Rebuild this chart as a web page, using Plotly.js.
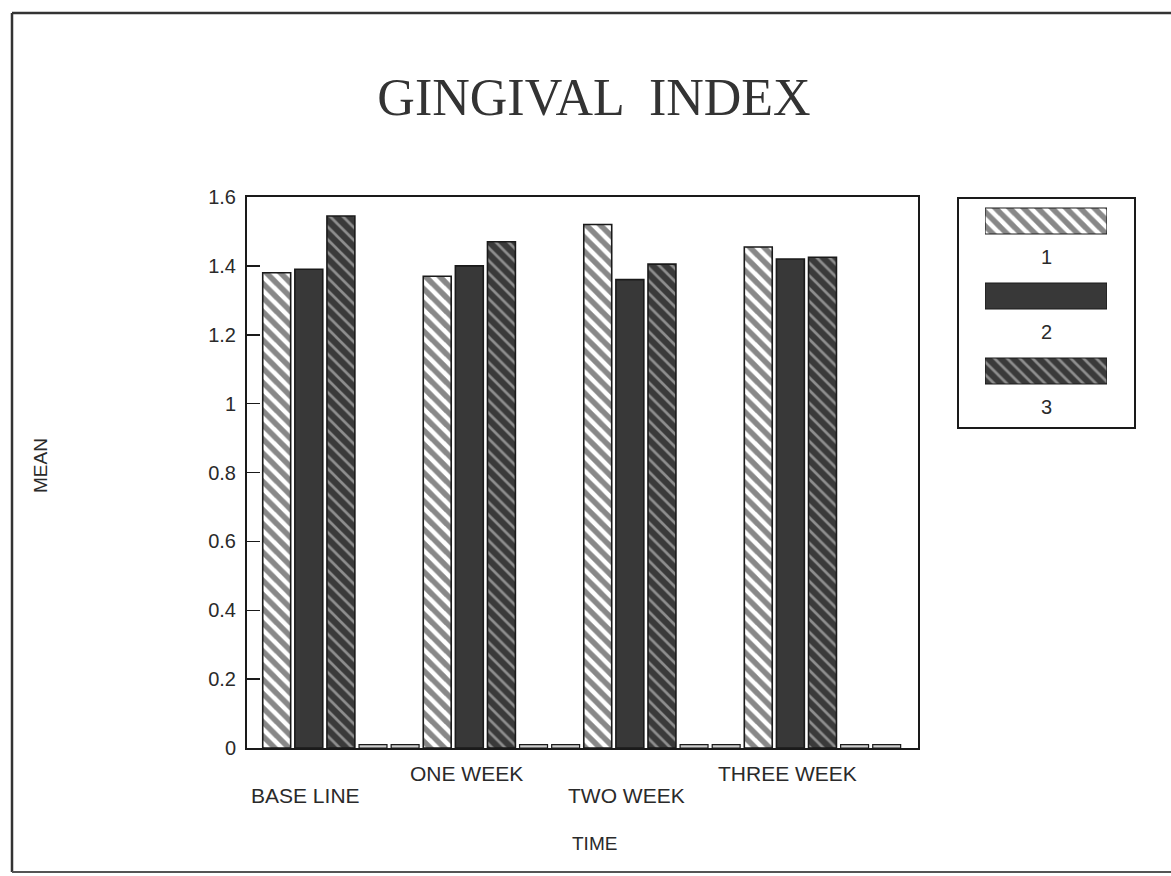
<!DOCTYPE html>
<html>
<head>
<meta charset="utf-8">
<script src="https://cdn.plot.ly/plotly-3.0.1.min.js"></script>
<style>
  html, body { margin: 0; padding: 0; background: #ffffff; }
  #chart { width: 1171px; height: 876px; }
</style>
</head>
<body>
<div id="chart"></div>
<script>
// ---------- data ----------
const categories = ['BASE LINE', 'ONE WEEK', 'TWO WEEK', 'THREE WEEK'];
const seriesNames = ['1', '2', '3'];
const series1 = [1.38, 1.37, 1.52, 1.455];
const series2 = [1.39, 1.40, 1.36, 1.42];
const series3 = [1.545, 1.47, 1.405, 1.425];
const emptySlotA = [0.01, 0.01, 0.01, 0.01];
const emptySlotB = [0.01, 0.01, 0.01, 0.01];
const yTickVals = [0, 0.2, 0.4, 0.6, 0.8, 1, 1.2, 1.4, 1.6];
const yTickText = ['0', '0.2', '0.4', '0.6', '0.8', '1', '1.2', '1.4', '1.6'];
const legendLength = [1, 1, 1];

// ---------- styles ----------
const sansFont = 'Liberation Sans Narrow, Liberation Sans, Arial, sans-serif';
const ink = '#2a2a2a';
const styles = [
  { color: '#ffffff', pattern: { shape: '\\', bgcolor: '#ffffff', fgcolor: '#111111', size: 10, solidity: 0.55, fillmode: 'overlay' } },
  { color: '#383838', pattern: { shape: '' } },
  { color: '#3a3a3a', pattern: { shape: '\\', bgcolor: '#3a3a3a', fgcolor: '#e2e2e2', size: 9, solidity: 0.3, fillmode: 'overlay' } }
];
const seriesValues = [series1, series2, series3];

const traces = [];
seriesValues.forEach((vals, i) => {
  traces.push({
    type: 'bar', x: categories, y: vals, name: seriesNames[i],
    marker: { color: styles[i].color, pattern: styles[i].pattern, line: { color: '#1a1a1a', width: 1.6 } },
    xaxis: 'x', yaxis: 'y', hoverinfo: 'skip', showlegend: false
  });
});
[emptySlotA, emptySlotB].forEach((vals) => {
  traces.push({
    type: 'bar', x: categories, y: vals,
    marker: { color: '#cfcfcf', line: { color: '#1a1a1a', width: 1.2 } },
    xaxis: 'x', yaxis: 'y', hoverinfo: 'skip', showlegend: false
  });
});
// custom legend swatches (long patterned bars)
seriesNames.forEach((nm, i) => {
  traces.push({
    type: 'bar', orientation: 'h', x: [legendLength[i]], y: [nm], width: 0.347,
    marker: { color: styles[i].color, pattern: styles[i].pattern, line: { color: '#1a1a1a', width: 1.2 } },
    xaxis: 'x2', yaxis: 'y2', hoverinfo: 'skip', showlegend: false
  });
});

// ---------- layout ----------
const W = 1171, H = 876;
const mL = 247, mR = 36, mT = 150, mB = 128;
const pw = W - mL - mR, ph = H - mT - mB;
const px = (x) => (x - mL) / pw;           // pixel -> paper x
const py = (y) => (H - mB - y) / ph;       // pixel -> paper y

const annotations = [];
categories.forEach((c, i) => {
  annotations.push({
    text: c, xref: 'x', x: i - 0.22, yref: 'paper', y: py(i % 2 === 0 ? 795 : 773),
    showarrow: false, xanchor: 'center', yanchor: 'middle',
    font: { family: sansFont, size: 21, color: ink }
  });
});
seriesNames.forEach((nm, i) => {
  annotations.push({
    text: nm, xref: 'paper', x: px(1046), yref: 'y2', y: i + 0.48,
    showarrow: false, xanchor: 'center', yanchor: 'middle',
    font: { family: sansFont, size: 20, color: ink }
  });
});
annotations.push({
  text: 'MEAN', xref: 'paper', x: px(40), yref: 'paper', y: py(466), textangle: -90,
  showarrow: false, xanchor: 'center', yanchor: 'middle',
  font: { family: sansFont, size: 19, color: ink }
});
annotations.push({
  text: 'TIME', xref: 'paper', x: px(594), yref: 'paper', y: py(843),
  showarrow: false, xanchor: 'center', yanchor: 'middle',
  font: { family: sansFont, size: 19, color: ink }
});

const shapes = [
  // legend box
  { type: 'rect', xref: 'paper', yref: 'paper', x0: px(958), x1: px(1135), y0: py(428), y1: py(198),
    line: { color: '#1a1a1a', width: 2 }, fillcolor: 'rgba(0,0,0,0)' },
  // page frame (scan edge)
  { type: 'line', xref: 'paper', yref: 'paper', x0: px(12), x1: px(1171), y0: py(13), y1: py(13), line: { color: '#333', width: 2.5 } },
  { type: 'line', xref: 'paper', yref: 'paper', x0: px(12), x1: px(12), y0: py(13), y1: py(872), line: { color: '#333', width: 2.5 } },
  { type: 'line', xref: 'paper', yref: 'paper', x0: px(12), x1: px(1171), y0: py(872), y1: py(872), line: { color: '#555', width: 2 } }
];

const layout = {
  width: W, height: H,
  margin: { l: mL, r: mR, t: mT, b: mB, pad: 0 },
  paper_bgcolor: '#ffffff', plot_bgcolor: '#ffffff',
  showlegend: false,
  barmode: 'group', bargap: 0.0, bargroupgap: 0.13,
  title: {
    text: 'GINGIVAL  INDEX', xref: 'paper', x: px(594), xanchor: 'center',
    yref: 'container', y: 1 - 97 / H, yanchor: 'middle',
    font: { family: 'Liberation Serif, Times New Roman, serif', size: 52, color: '#333' }
  },
  xaxis: {
    domain: [0, px(918)], type: 'category', range: [-0.585, 3.595],
    showticklabels: false, ticks: '', showgrid: false, zeroline: false,
    showline: true, mirror: true, linecolor: '#1a1a1a', linewidth: 2, fixedrange: true
  },
  yaxis: {
    domain: [0, py(197)], range: [0, 1.6],
    tickvals: yTickVals, ticktext: yTickText,
    ticks: 'inside', ticklen: 13, tickwidth: 1.5, tickcolor: '#1a1a1a',
    tickfont: { family: sansFont, size: 20, color: ink }, ticklabelstandoff: 5,
    showgrid: false, zeroline: false,
    showline: true, mirror: true, linecolor: '#1a1a1a', linewidth: 2, fixedrange: true
  },
  xaxis2: { domain: [px(985), px(1107)], range: [0, 1], visible: false, anchor: 'y2', fixedrange: true },
  yaxis2: {
    domain: [py(408.5), py(183.5)], type: 'category', categoryarray: seriesNames,
    range: [2.5, -0.5], visible: false, anchor: 'x2', fixedrange: true
  },
  annotations: annotations,
  shapes: shapes
};

Plotly.newPlot('chart', traces, layout, { displayModeBar: false, staticPlot: true });
</script>
</body>
</html>
